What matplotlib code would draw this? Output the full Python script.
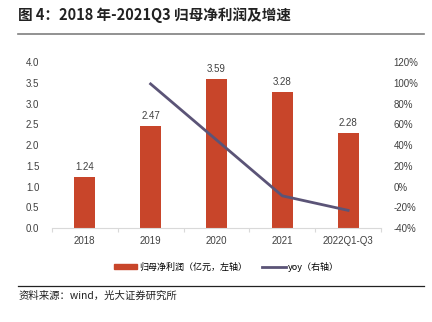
import matplotlib
matplotlib.use("Agg")
import matplotlib.pyplot as plt
from matplotlib.lines import Line2D

plt.rcParams['font.family'] = ['Liberation Sans', 'Noto Sans CJK SC', 'DejaVu Sans']

categories = ["2018", "2019", "2020", "2021", "2022Q1-Q3"]
profit = [1.24, 2.47, 3.59, 3.28, 2.28]
yoy_cats = ["2019", "2020", "2021", "2022Q1-Q3"]
yoy = [99, 45, -9, -23]
left_ticks = [0.0, 0.5, 1.0, 1.5, 2.0, 2.5, 3.0, 3.5, 4.0]
right_ticks = [-40, -20, 0, 20, 40, 60, 80, 100, 120]

bar_color = "#C8452A"
line_color = "#5B5477"

fig = plt.figure(figsize=(4.32, 3.22), dpi=100)
ax = fig.add_axes([0.120, 0.292, 0.762, 0.515])
x = list(range(len(categories)))
ax.bar(x, profit, width=0.32, color=bar_color, zorder=2)
for xi, v in zip(x, profit):
    ax.text(xi, v + 0.12, f"{v:.2f}", ha='center', va='bottom', fontsize=7, color='#404040')
ax.set_ylim(0, 4.0)
ax.set_xlim(-0.5, len(categories) - 0.5)
ax.set_yticks(left_ticks)
ax.set_yticklabels([f"{t:.1f}" for t in left_ticks])
ax.set_xticks(x)
ax.set_xticklabels(categories)
ax.set_xticks([i - 0.5 for i in range(len(categories) + 1)], minor=True)
for s in ['top', 'right', 'left']:
    ax.spines[s].set_visible(False)
ax.spines['bottom'].set_color('#D9D9D9')
ax.tick_params(axis='both', which='major', length=0, labelsize=7, colors='#404040', pad=6)
ax.tick_params(axis='x', which='minor', length=3, color='#D9D9D9', width=0.8)
ax.tick_params(axis='y', pad=9)

ax2 = ax.twinx()
xi_yoy = [categories.index(c) for c in yoy_cats]
ax2.plot(xi_yoy, yoy, color=line_color, linewidth=2, zorder=3)
ax2.set_ylim(-40, 120)
ax2.set_yticks(right_ticks)
ax2.set_yticklabels([f"{t}%" for t in right_ticks])
for s in ['top', 'right', 'left', 'bottom']:
    ax2.spines[s].set_visible(False)
ax2.tick_params(axis='y', length=0, labelsize=7, colors='#404040', pad=9)

# legend
handles = [plt.Rectangle((0, 0), 1, 1, color=bar_color),
           Line2D([0], [0], color=line_color, linewidth=2)]
labels = ["归母净利润（亿元，左轴）", "yoy（右轴）"]
fig.legend(handles, labels, loc='center', bbox_to_anchor=(0.524, 0.171), ncol=2,
           frameon=False, handlelength=2.6, handleheight=0.55, handletextpad=0.25,
           columnspacing=1.6, prop={'family': ['Noto Sans CJK SC'], 'size': 6.5})

# title and decorations
fig.text(0.042, 0.953, "图 4：2018 年-2021Q3 归母净利润及增速", fontsize=10.5, fontweight='bold',
         family=['Noto Sans CJK SC'], color='#222222', va='center', ha='left')
fig.add_artist(Line2D([0.042, 0.982], [0.894, 0.894], color='#7F7F7F', linewidth=1.2, transform=fig.transFigure))
fig.add_artist(Line2D([0.042, 0.982], [0.112, 0.112], color='#222222', linewidth=0.9, transform=fig.transFigure))
fig.text(0.042, 0.083, "资料来源：wind，光大证券研究所", fontsize=7.5,
         family=['Noto Sans CJK SC'], color='#222222', va='center', ha='left')

fig.savefig("out.png", dpi=100)
